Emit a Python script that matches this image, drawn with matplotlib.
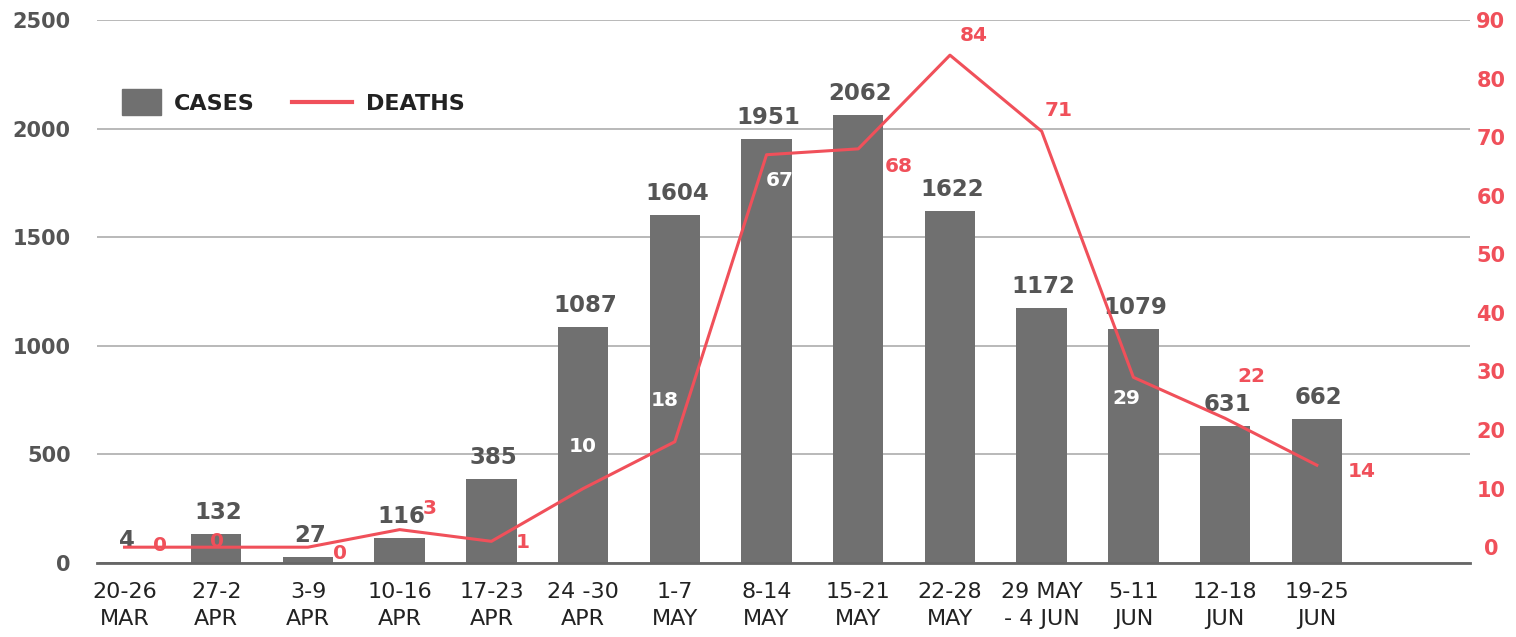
import numpy as np
import matplotlib
matplotlib.use("Agg")
import matplotlib.pyplot as plt
import matplotlib.patches as mpatches
import matplotlib.lines as mlines
from matplotlib.legend_handler import HandlerPatch

plt.rcParams['font.family'] = ['DejaVu Sans']

# data
weeks = ["20-26\nMAR", "27-2\nAPR", "3-9\nAPR", "10-16\nAPR", "17-23\nAPR",
         "24 -30\nAPR", "1-7\nMAY", "8-14\nMAY", "15-21\nMAY", "22-28\nMAY",
         "29 MAY\n- 4 JUN", "5-11\nJUN", "12-18\nJUN", "19-25\nJUN"]
cases = [4, 132, 27, 116, 385, 1087, 1604, 1951, 2062, 1622, 1172, 1079, 631, 662]
deaths = [0, 0, 0, 3, 1, 10, 18, 67, 68, 84, 71, 29, 22, 14]

# label placement for the deaths values (pixels, dx / dy)
death_off = [(35, 2), (1, 6), (32, -6), (30, 21), (31, -1), (0, 42), (-10, 41),
             (13, -26), (41, -18), (24, 20), (17, 21), (-7, -21), (26, 42), (45, -6)]
white_lbl = [5, 6, 7, 11]

GRAY = '#707070'
RED = '#f0505a'

fig = plt.figure(figsize=(15.16, 6.37), dpi=100)
ax = fig.add_axes([97 / 1516, 1 - 563 / 637, 1373 / 1516, 543 / 637])

x = np.arange(len(weeks))
ax.bar(x, cases, width=0.55, color=GRAY, zorder=2)
ax.set_xlim(-0.3, 14.67)
ax.set_ylim(0, 2500)
ax.set_yticks(np.arange(0, 2501, 500))
ax.set_xticks(x)
ax.set_xticklabels(weeks, linespacing=1.4)
ax.grid(axis='y', color='#a6a6a6', lw=1.1)
ax.set_axisbelow(True)
for s in ['top', 'left', 'right']:
    ax.spines[s].set_visible(False)
ax.spines['bottom'].set_color('#666666')
ax.spines['bottom'].set_linewidth(2)
ax.tick_params(axis='x', length=0, pad=14, labelsize=16, labelcolor='#222222')
ax.tick_params(axis='y', length=0, pad=19, labelsize=15, labelcolor='#555555')
for t in ax.get_yticklabels():
    t.set_fontweight('bold')

# bar labels
for xi, v in zip(x, cases):
    ax.annotate(str(v), (xi, v), xytext=(2, 10), textcoords='offset pixels',
                ha='center', va='bottom', fontsize=16.5, fontweight='bold', color='#555555')

# deaths line on the right axis
ax2 = ax.twinx()
ax2.plot(x, deaths, color=RED, lw=2.2, zorder=3)
ax2.set_ylim(-2.7, 90)
ax2.set_yticks(np.arange(0, 91, 10))
for s in ax2.spines.values():
    s.set_visible(False)
ax2.tick_params(axis='y', length=0, pad=15, labelsize=15, labelcolor=RED)
for t in ax2.get_yticklabels():
    t.set_fontweight('bold')
    t.set_horizontalalignment('center')

for i, (xi, v) in enumerate(zip(x, deaths)):
    dx, dy = death_off[i]
    c = 'white' if i in white_lbl else RED
    ax2.annotate(str(v), (xi, v), xytext=(dx, dy), textcoords='offset pixels',
                 ha='center', va='center', fontsize=14.5, fontweight='bold', color=c)


# legend
def box(legend, orig_handle, xdescent, ydescent, width, height, fontsize):
    return mpatches.Rectangle((-xdescent + width - 27.4, -ydescent + height / 2 - 9.4), 27.4, 18.7)


h1 = mpatches.Patch(color=GRAY, label='CASES')
h2 = mlines.Line2D([], [], color=RED, lw=3, label='DEATHS')
ax.legend(handles=[h1, h2], loc='center left', bbox_to_anchor=(-0.012, 0.845),
          frameon=False, ncol=2, handlelength=2.7, handletextpad=0.6, columnspacing=1.7,
          handler_map={mpatches.Patch: HandlerPatch(patch_func=box)},
          prop={'size': 16, 'weight': 'bold'}, labelcolor='#222222')

fig.savefig('out.png', dpi=100)
